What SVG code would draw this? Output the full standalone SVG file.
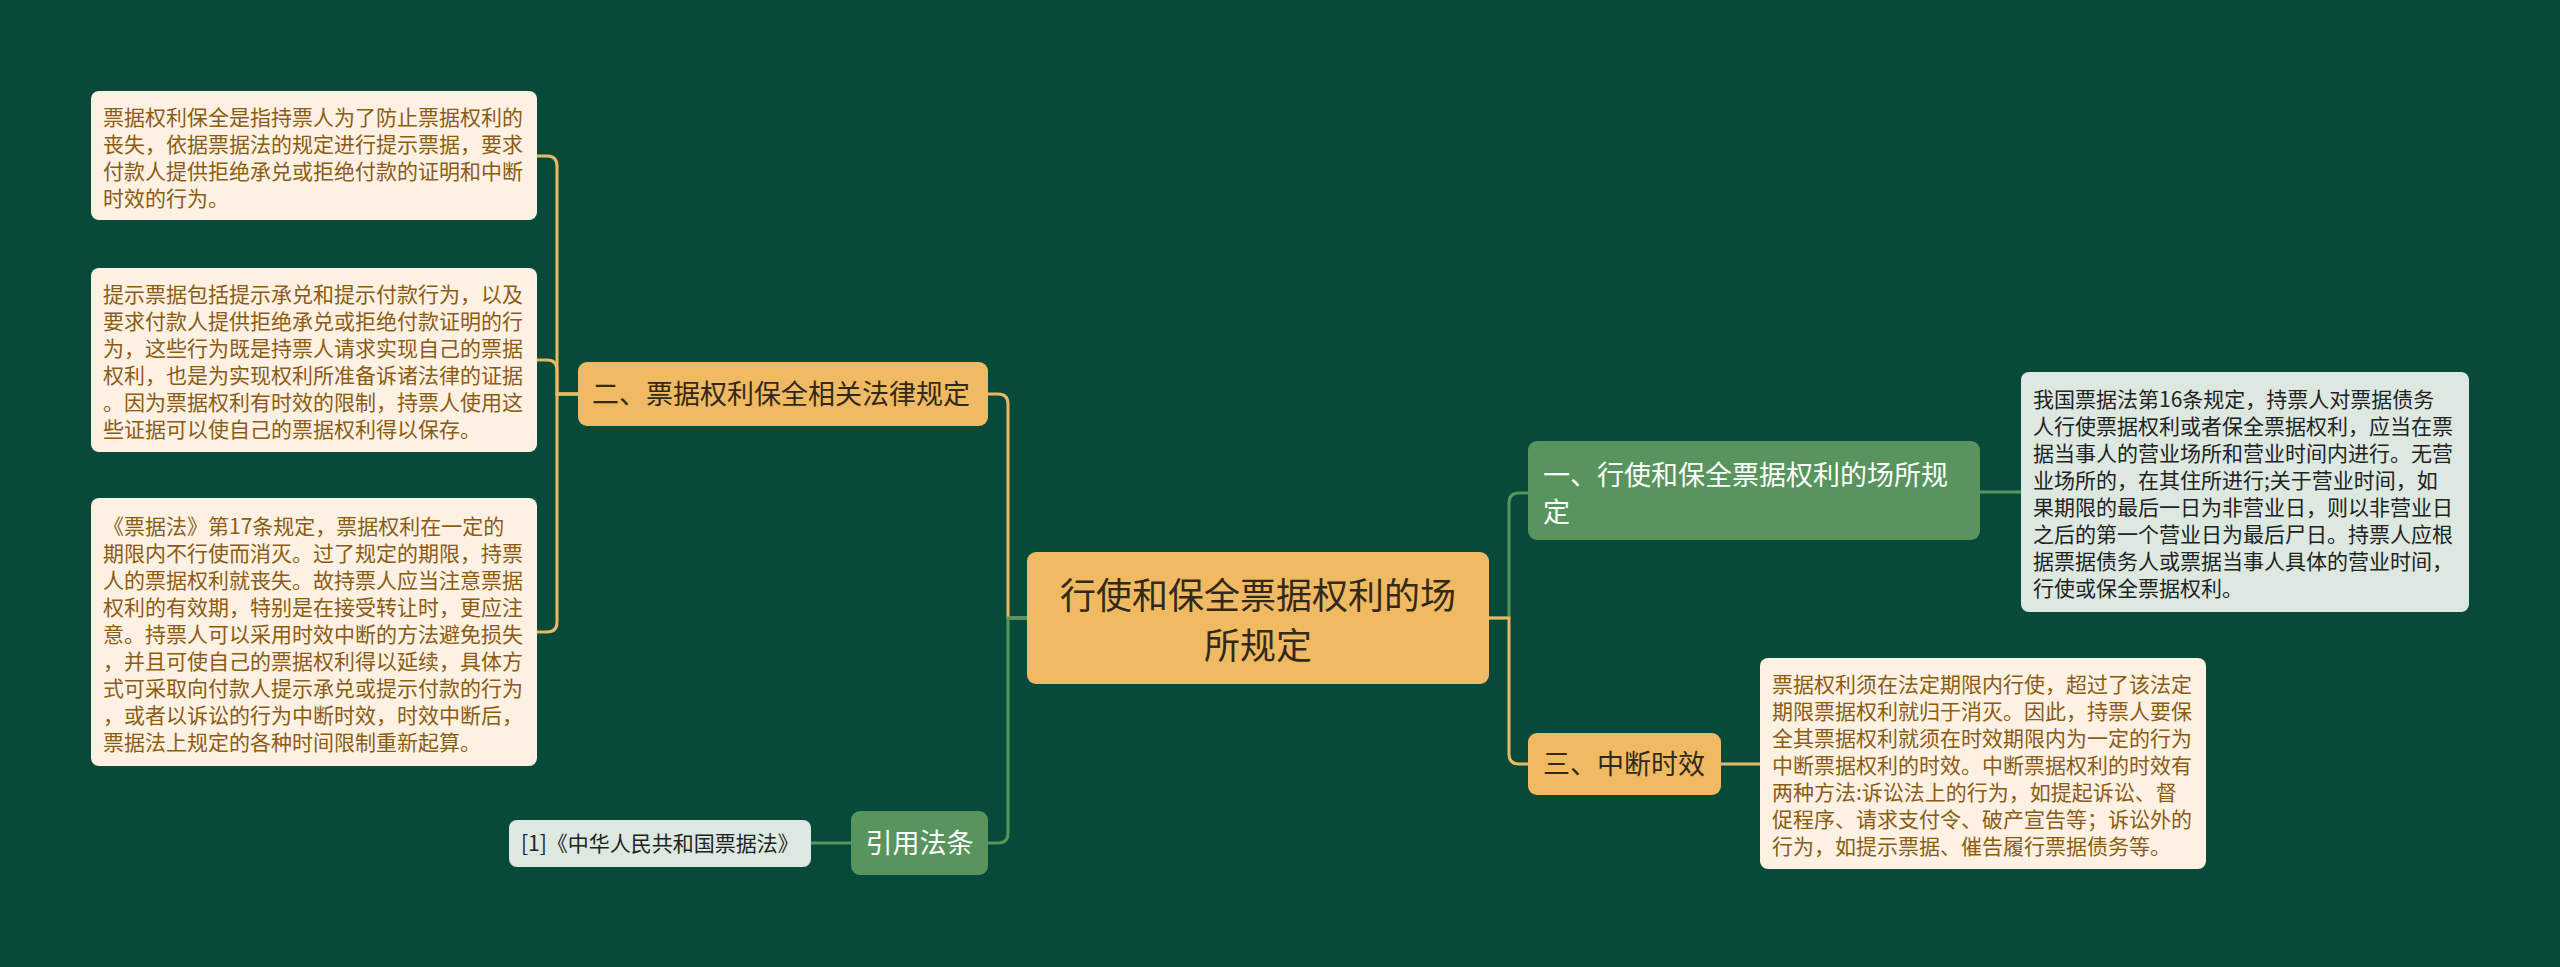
<svg xmlns="http://www.w3.org/2000/svg" width="2560" height="967" viewBox="0 0 2560 967">
<style>
text{font-family:"Noto Sans CJK SC","Noto Sans",sans-serif;}
.bg{fill:#084a3a;}
.gold{fill:#f0ba62;}
.green{fill:#58945e;}
.cream{fill:#fcf1e2;}
.mint{fill:#dde8e0;}
.lg{fill:none;stroke:#e9b862;stroke-width:3;}
.lgr{fill:none;stroke:#58945e;stroke-width:3;}
.leaf{font-size:21px;fill:#8c5c14;}
.leafd{font-size:21px;fill:#222;}
.h{font-size:27px;fill:#33291a;}
.hw{font-size:27px;fill:#fff;}
.c{font-size:36px;fill:#33291a;text-anchor:middle;}
</style>
<rect class="bg" x="0" y="0" width="2560" height="967"/>
<g id="connectors">
<path class="lg" d="M1027,618 L1008,618 L1008,404 Q1008,394 998,394 L988,394"/>
<path class="lgr" d="M1027,618 L1008,618 L1008,833 Q1008,843 998,843 L988,843"/>
<path class="lgr" d="M1489,618 L1509,618 L1509,503 Q1509,493 1519,493 L1528,493"/>
<path class="lg" d="M1489,618 L1509,618 L1509,754 Q1509,764 1519,764 L1528,764"/>
<path class="lg" d="M578,394 L557,394 L557,166 Q557,156 547,156 L537,156"/>
<path class="lg" d="M578,394 L557,394 L557,370 Q557,360 547,360 L537,360"/>
<path class="lg" d="M578,394 L557,394 L557,622 Q557,632 547,632 L537,632"/>
<path class="lgr" d="M1980,492 L2021,492"/>
<path class="lg" d="M1721,764 L1760,764"/>
<path class="lgr" d="M851,843 L811,843"/>
</g>
<g id="center">
<rect class="gold" x="1027" y="552" width="462" height="132" rx="9"/>
<text class="c" x="1258" y="609">行使和保全票据权利的场</text>
<text class="c" x="1258" y="659">所规定</text>
</g>
<g id="n2">
<rect class="gold" x="578" y="362" width="410" height="64" rx="9"/>
<text class="h" x="592" y="404">二、票据权利保全相关法律规定</text>
</g>
<g id="ref">
<rect class="green" x="851" y="811" width="137" height="64" rx="9"/>
<text class="hw" x="919.5" y="853" text-anchor="middle">引用法条</text>
</g>
<g id="n1">
<rect class="green" x="1528" y="441" width="452" height="99" rx="9"/>
<text class="hw" x="1543" y="485">一、行使和保全票据权利的场所规</text>
<text class="hw" x="1543" y="522">定</text>
</g>
<g id="n3">
<rect class="gold" x="1528" y="733" width="193" height="62" rx="9"/>
<text class="h" x="1543" y="774">三、中断时效</text>
</g>
<g id="leaf1">
<rect class="cream" x="91" y="91" width="446" height="129" rx="8"/>
<text class="leaf" x="103" y="124.5"><tspan x="103">票据权利保全是指持票人为了防止票据权利的</tspan><tspan x="103" dy="27">丧失，依据票据法的规定进行提示票据，要求</tspan><tspan x="103" dy="27">付款人提供拒绝承兑或拒绝付款的证明和中断</tspan><tspan x="103" dy="27">时效的行为。</tspan></text>
</g>
<g id="leaf2">
<rect class="cream" x="91" y="268" width="446" height="184" rx="8"/>
<text class="leaf" x="103" y="302"><tspan x="103">提示票据包括提示承兑和提示付款行为，以及</tspan><tspan x="103" dy="27">要求付款人提供拒绝承兑或拒绝付款证明的行</tspan><tspan x="103" dy="27">为，这些行为既是持票人请求实现自己的票据</tspan><tspan x="103" dy="27">权利，也是为实现权利所准备诉诸法律的证据</tspan><tspan x="103" dy="27">。因为票据权利有时效的限制，持票人使用这</tspan><tspan x="103" dy="27">些证据可以使自己的票据权利得以保存。</tspan></text>
</g>
<g id="leaf3">
<rect class="cream" x="91" y="498" width="446" height="268" rx="8"/>
<text class="leaf" x="103" y="533.5"><tspan x="103">《票据法》第17条规定，票据权利在一定的</tspan><tspan x="103" dy="27">期限内不行使而消灭。过了规定的期限，持票</tspan><tspan x="103" dy="27">人的票据权利就丧失。故持票人应当注意票据</tspan><tspan x="103" dy="27">权利的有效期，特别是在接受转让时，更应注</tspan><tspan x="103" dy="27">意。持票人可以采用时效中断的方法避免损失</tspan><tspan x="103" dy="27">，并且可使自己的票据权利得以延续，具体方</tspan><tspan x="103" dy="27">式可采取向付款人提示承兑或提示付款的行为</tspan><tspan x="103" dy="27">，或者以诉讼的行为中断时效，时效中断后，</tspan><tspan x="103" dy="27">票据法上规定的各种时间限制重新起算。</tspan></text>
</g>
<g id="refleaf">
<rect class="mint" x="509" y="820" width="302" height="47" rx="8"/>
<text class="leafd" x="521" y="851" fill="#333">[1]《中华人民共和国票据法》</text>
</g>
<g id="leaf1r">
<rect class="mint" x="2021" y="372" width="448" height="240" rx="8"/>
<text class="leafd" x="2033" y="407"><tspan x="2033">我国票据法第16条规定，持票人对票据债务</tspan><tspan x="2033" dy="27">人行使票据权利或者保全票据权利，应当在票</tspan><tspan x="2033" dy="27">据当事人的营业场所和营业时间内进行。无营</tspan><tspan x="2033" dy="27">业场所的，在其住所进行;关于营业时间，如</tspan><tspan x="2033" dy="27">果期限的最后一日为非营业日，则以非营业日</tspan><tspan x="2033" dy="27">之后的第一个营业日为最后尸日。持票人应根</tspan><tspan x="2033" dy="27">据票据债务人或票据当事人具体的营业时间，</tspan><tspan x="2033" dy="27">行使或保全票据权利。</tspan></text>
</g>
<g id="leaf3r">
<rect class="cream" x="1760" y="658" width="446" height="211" rx="8"/>
<text class="leaf" x="1772" y="692"><tspan x="1772">票据权利须在法定期限内行使，超过了该法定</tspan><tspan x="1772" dy="27">期限票据权利就归于消灭。因此，持票人要保</tspan><tspan x="1772" dy="27">全其票据权利就须在时效期限内为一定的行为</tspan><tspan x="1772" dy="27">中断票据权利的时效。中断票据权利的时效有</tspan><tspan x="1772" dy="27">两种方法:诉讼法上的行为，如提起诉讼、督</tspan><tspan x="1772" dy="27">促程序、请求支付令、破产宣告等；诉讼外的</tspan><tspan x="1772" dy="27">行为，如提示票据、催告履行票据债务等。</tspan></text>
</g>
</svg>
